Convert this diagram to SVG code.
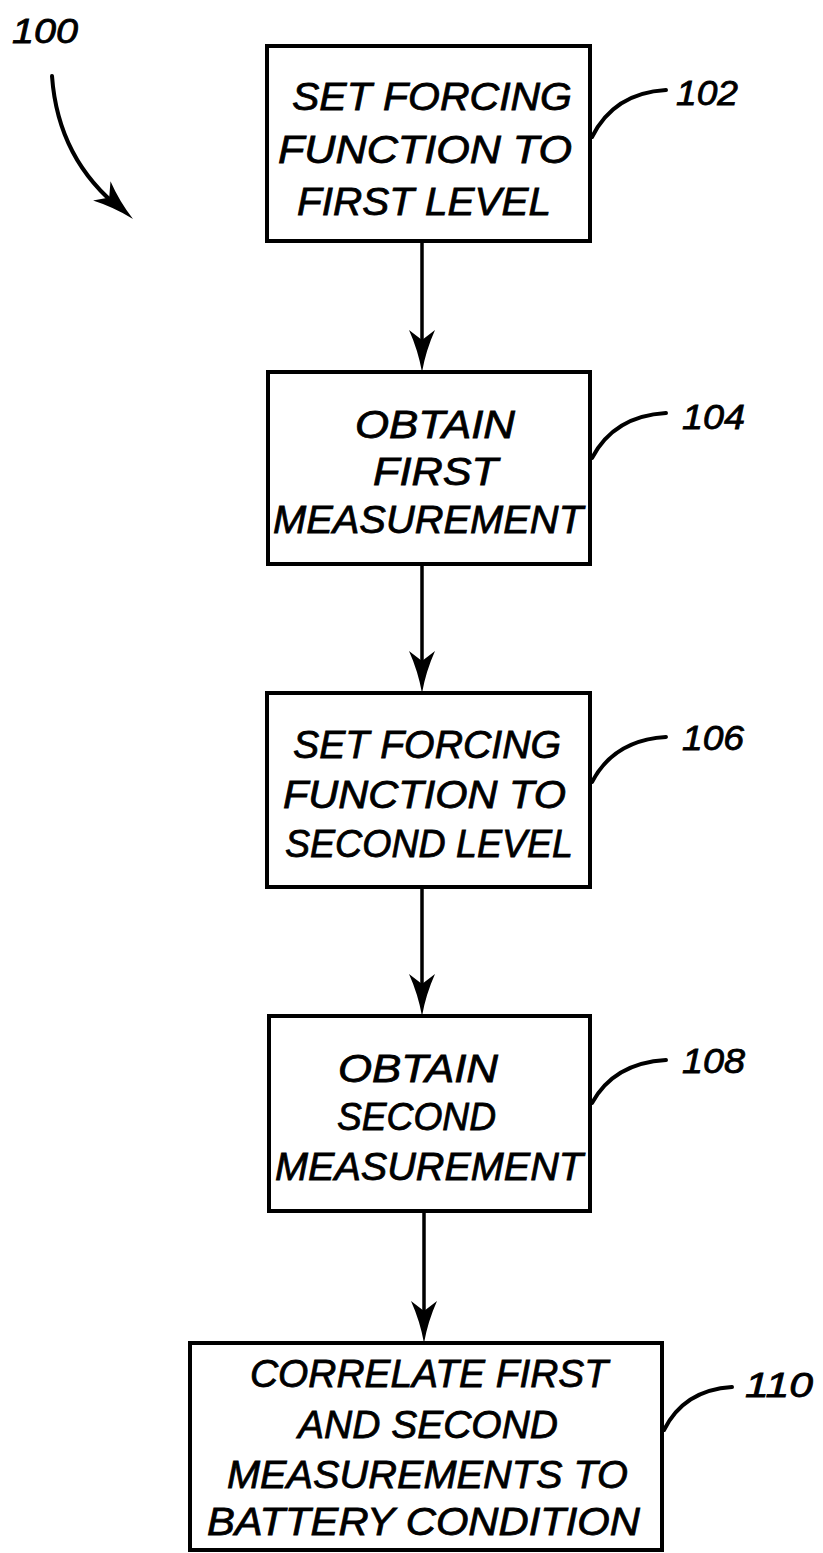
<svg xmlns="http://www.w3.org/2000/svg" width="823" height="1553" viewBox="0 0 823 1553">
<style>
.box{fill:#fff;stroke:#000;stroke-width:4}
.t{font-family:"Liberation Sans",Arial,sans-serif;font-style:italic;font-size:39px;fill:#000;stroke:#000;stroke-width:0.8}
.n{font-family:"Liberation Sans",Arial,sans-serif;font-style:italic;font-size:35px;fill:#000;stroke:#000;stroke-width:0.8}
.ln{fill:none;stroke:#000;stroke-width:3.5}
.ld{fill:none;stroke:#000;stroke-width:4;stroke-linecap:round}
</style>
<defs>
<path id="ah" d="M0,0 Q-4,-22 -13,-42 L0,-32 L13,-42 Q4,-22 0,0 Z" fill="#000"/>
</defs>
<rect width="823" height="1553" fill="#fff"/>
<g id="connectors">
<line class="ln" x1="422" y1="241" x2="422" y2="350"/>
<use href="#ah" transform="translate(422,372)"/>
<line class="ln" x1="422" y1="564" x2="422" y2="670"/>
<use href="#ah" transform="translate(422,693)"/>
<line class="ln" x1="422" y1="887" x2="422" y2="995"/>
<use href="#ah" transform="translate(422,1016)"/>
<line class="ln" x1="424" y1="1211" x2="424" y2="1320"/>
<use href="#ah" transform="translate(424,1343)"/>
</g>
<g id="n100">
<text class="n" x="12" y="43" textLength="66" lengthAdjust="spacingAndGlyphs">100</text>
<path class="ld" d="M52,76 Q58,160 122,210"/>
<use href="#ah" transform="translate(133,219) rotate(-48)"/>
</g>
<g id="n102">
<rect class="box" x="267" y="46" width="323" height="195"/>
<text class="t" x="292" y="110" textLength="280" lengthAdjust="spacingAndGlyphs">SET FORCING</text>
<text class="t" x="278" y="163" textLength="294" lengthAdjust="spacingAndGlyphs">FUNCTION TO</text>
<text class="t" x="297" y="215" textLength="254" lengthAdjust="spacingAndGlyphs">FIRST LEVEL</text>
<path class="ld" d="M592,137 Q614,93 666,90"/>
<text class="n" x="676" y="105" textLength="62" lengthAdjust="spacingAndGlyphs">102</text>
</g>
<g id="n104">
<rect class="box" x="268" y="372" width="322" height="192"/>
<text class="t" x="355" y="438" textLength="160" lengthAdjust="spacingAndGlyphs">OBTAIN</text>
<text class="t" x="373" y="485" textLength="125" lengthAdjust="spacingAndGlyphs">FIRST</text>
<text class="t" x="273" y="533" textLength="310" lengthAdjust="spacingAndGlyphs">MEASUREMENT</text>
<path class="ld" d="M592,458 Q614,416 666,413"/>
<text class="n" x="682" y="429" textLength="63" lengthAdjust="spacingAndGlyphs">104</text>
</g>
<g id="n106">
<rect class="box" x="267" y="693" width="323" height="194"/>
<text class="t" x="293" y="758" textLength="268" lengthAdjust="spacingAndGlyphs">SET FORCING</text>
<text class="t" x="283" y="808" textLength="283" lengthAdjust="spacingAndGlyphs">FUNCTION TO</text>
<text class="t" x="285" y="857" textLength="288" lengthAdjust="spacingAndGlyphs">SECOND LEVEL</text>
<path class="ld" d="M592,782 Q614,740 666,737"/>
<text class="n" x="682" y="750" textLength="62" lengthAdjust="spacingAndGlyphs">106</text>
</g>
<g id="n108">
<rect class="box" x="269" y="1016" width="321" height="195"/>
<text class="t" x="338" y="1082" textLength="160" lengthAdjust="spacingAndGlyphs">OBTAIN</text>
<text class="t" x="337" y="1130" textLength="159" lengthAdjust="spacingAndGlyphs">SECOND</text>
<text class="t" x="275" y="1180" textLength="308" lengthAdjust="spacingAndGlyphs">MEASUREMENT</text>
<path class="ld" d="M592,1103 Q614,1063 666,1060"/>
<text class="n" x="682" y="1073" textLength="63" lengthAdjust="spacingAndGlyphs">108</text>
</g>
<g id="n110">
<rect class="box" x="190" y="1343" width="472" height="207"/>
<text class="t" x="250" y="1387" textLength="358" lengthAdjust="spacingAndGlyphs">CORRELATE FIRST</text>
<text class="t" x="298" y="1438" textLength="260" lengthAdjust="spacingAndGlyphs">AND SECOND</text>
<text class="t" x="227" y="1488" textLength="401" lengthAdjust="spacingAndGlyphs">MEASUREMENTS TO</text>
<text class="t" x="207" y="1535" textLength="433" lengthAdjust="spacingAndGlyphs">BATTERY CONDITION</text>
<path class="ld" d="M664,1430 Q684,1390 732,1387"/>
<text class="n" x="745" y="1397" textLength="68" lengthAdjust="spacingAndGlyphs">110</text>
</g>
</svg>
